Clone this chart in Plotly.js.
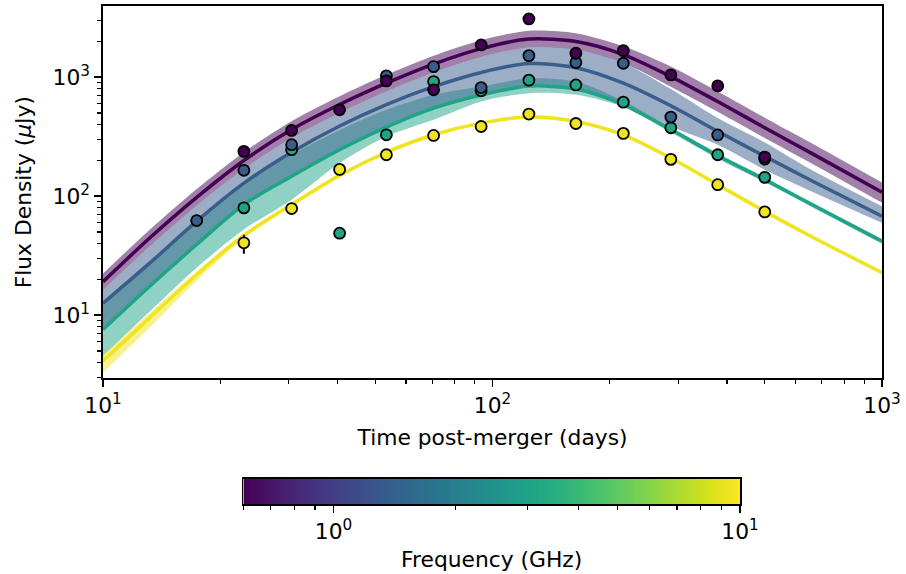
<!DOCTYPE html>
<html>
<head>
<meta charset="utf-8">
<script src="https://cdn.plot.ly/plotly-3.0.1.min.js"></script>
<style>html,body{margin:0;padding:0;background:#fff;}#chart{width:906px;height:574px;}</style>
</head>
<body>
<div id="chart"></div>
<script>
// ---- data (flux densities in microJansky, times in days) ----
const FREQ_GHZ = [0.6, 1.4, 3, 10];
const FREQ_COLORS = ['#440154', '#3a5e8c', '#20a386', '#f0e41f'];
const FREQ_FILLS = ['rgba(68,1,84,0.5)', 'rgba(58,94,140,0.5)', 'rgba(32,163,134,0.5)', 'rgba(240,228,31,0.5)'];

// observed points
const T_OBS = [17.4, 23.0, 30.5, 40.5, 53.4, 70.6, 93.5, 124, 163.7, 216.7, 287, 378.6, 500];
const OBS_0p6 = [null, 238, 357, 532, 931, 783, 1866, 3084, 1589, 1671, 1045, 845, 213];
const OBS_1p4 = [62.4, 165, 271, null, 1026, 1227, 818, 1517, 1326, 1309, 462, 327, 205];
const OBS_3 = [null, 79.8, 246, 48.9, 328, 919, 768, 944, 861, 617, 376, 223, 144];
const OBS_10 = [null, 40.6, 78.7, 168, 223, 324, 385, 490, 408, 337, 204, 125, 73.8];
const ERR_UP_10 = [0, 6.9, 0, 0, 0, 0, 0, 0, 0, 0, 0, 0, 0];
const ERR_DN_10 = [0, 7.7, 0, 0, 0, 0, 0, 0, 0, 0, 0, 0, 0];

// model light curves
const T_MODEL = [10, 13.2, 17.4, 23, 30.5, 40.5, 53.4, 70.6, 93.5, 124, 163.7, 216.7, 287, 378.6, 500, 660, 1000];
const MODEL_0p6 = [19.1, 44.7, 97.7, 199.5, 363, 589, 891, 1288, 1738, 2089, 1995, 1549, 1012, 624, 376, 229, 108];
const HI_0p6 = [22.4, 52.5, 114.8, 234.4, 426.6, 691.8, 1047, 1514, 2042, 2455, 2344, 1820, 1230, 758.6, 457.1, 278.6, 130.3];
const LO_0p6 = [16.2, 38.0, 83.2, 169.8, 309.0, 501.2, 758.6, 1096, 1479, 1778, 1698, 1318, 831.8, 512.9, 309.0, 188.4, 88.1];

const MODEL_1p4 = [12.6, 27.5, 61.7, 128.8, 234.4, 389.0, 588.8, 831.8, 1096, 1303, 1202, 891.3, 575.4, 350.8, 216.3, 134.9, 67.9];
const HI_1p4 = [16.2, 38.0, 83.2, 169.8, 309.0, 501.2, 758.6, 1096, 1479, 1778, 1698, 1318, 794.3, 452.9, 283.1, 166.0, 82.2];
const LO_1p4 = [7.59, 17.6, 39.3, 85.1, 146.9, 245.5, 380.2, 549.5, 707.9, 841.4, 794.3, 602.6, 385.5, 271.0, 167.1, 109.6, 59.7];

const MODEL_3 = [7.59, 17.6, 39.3, 85.1, 146.9, 245.5, 380.2, 549.5, 707.9, 841.4, 794.3, 588.8, 363.1, 218.8, 137.7, 85.1, 41.9];
const HI_3 = [12.6, 27.5, 61.7, 128.8, 223.9, 358.9, 532.1, 711.2, 833.7, 977.2, 918.3, 631.0, 380.2, 229.1, 144.5, 89.1, 43.7];
const LO_3 = [4.55, 10.8, 25.1, 52.5, 93.5, 190.1, 317.7, 438.5, 625.2, 734.5, 711.2, 562.3, 342.8, 206.5, 131.5, 81.3, 39.8];

const MODEL_10 = [4.13, 9.55, 21.9, 46.8, 85.1, 149.6, 233.3, 328.1, 411.1, 462.4, 424.6, 328.1, 209.4, 125.0, 74.6, 45.7, 22.8];
const HI_10 = [4.63, 10.5, 23.4, 49.0, 88.1, 153.8, 239.9, 337.3, 422.7, 475.3, 436.5, 337.3, 215.3, 128.5, 76.7, 47.0, 23.4];
const LO_10 = [3.28, 7.94, 19.5, 44.2, 82.2, 145.5, 227.0, 319.2, 399.9, 449.8, 413.0, 319.2, 203.7, 121.6, 72.6, 44.5, 22.1];

// colourbar range (GHz)
const CBAR_MIN = 0.6, CBAR_MAX = 10;
const X_TICKS = [10, 100, 1000];
const X_TICKTEXT = ['10<sup>1</sup>', '10<sup>2</sup>', '10<sup>3</sup>'];
const X_MINOR = [20, 30, 40, 50, 60, 70, 80, 90, 200, 300, 400, 500, 600, 700, 800, 900];
const Y_TICKS = [10, 100, 1000];
const Y_TICKTEXT = ['10<sup>1</sup>', '10<sup>2</sup>', '10<sup>3</sup>'];
const Y_MINOR = [3, 4, 5, 6, 7, 8, 9, 20, 30, 40, 50, 60, 70, 80, 90, 200, 300, 400, 500, 600, 700, 800, 900, 2000, 3000];
const CB_TICKS = [1, 10];
const CB_TICKTEXT = ['10<sup>0</sup>', '10<sup>1</sup>'];
const CB_MINOR = [0.6, 0.7, 0.8, 0.9, 2, 3, 4, 5, 6, 7, 8, 9];

// ---- build ----
const models = [MODEL_0p6, MODEL_1p4, MODEL_3, MODEL_10];
const his = [HI_0p6, HI_1p4, HI_3, HI_10];
const los = [LO_0p6, LO_1p4, LO_3, LO_10];
const obs = [OBS_0p6, OBS_1p4, OBS_3, OBS_10];

const traces = [];
// bands: teal, blue, purple, yellow
[2, 1, 0, 3].forEach(i => {
  traces.push({x: T_MODEL, y: los[i], type: 'scatter', mode: 'lines', line: {width: 0, shape: 'spline', smoothing: 0.8}, hoverinfo: 'skip', showlegend: false});
  traces.push({x: T_MODEL, y: his[i], type: 'scatter', mode: 'lines', fill: 'tonexty', fillcolor: FREQ_FILLS[i], line: {width: 0, shape: 'spline', smoothing: 0.8}, hoverinfo: 'skip', showlegend: false});
});
// lines
[0, 1, 2, 3].forEach(i => {
  traces.push({x: T_MODEL, y: models[i], type: 'scatter', mode: 'lines', line: {color: FREQ_COLORS[i], width: 3.5, shape: 'spline', smoothing: 0.8}, showlegend: false});
});
// points: teal, blue, purple, yellow
[2, 1, 0, 3].forEach(i => {
  const tr = {x: T_OBS, y: obs[i], type: 'scatter', mode: 'markers', marker: {color: FREQ_COLORS[i], size: 11, line: {color: '#000', width: 1.8}}, showlegend: false};
  if (i === 3) {
    tr.error_y = {type: 'data', symmetric: false, array: ERR_UP_10, arrayminus: ERR_DN_10, color: '#000', thickness: 2, width: 0};
  }
  traces.push(tr);
});
// colourbar as a heatmap strip on its own log axis
const NCB = 300;
const cbEdges = [], cbZ = [];
const lmin = Math.log10(CBAR_MIN), lmax = Math.log10(CBAR_MAX);
for (let k = 0; k <= NCB; k++) cbEdges.push(Math.pow(10, lmin + (lmax - lmin) * k / NCB));
for (let k = 0; k < NCB; k++) cbZ.push(lmin + (lmax - lmin) * (k + 0.5) / NCB);
traces.push({type: 'heatmap', x: cbEdges, y: [0, 1], z: [cbZ], colorscale: 'Viridis', zmin: lmin, zmax: lmax, showscale: false, xaxis: 'x2', yaxis: 'y2', hoverinfo: 'skip'});

const FONT = 'DejaVu Sans, Verdana, sans-serif';
const FS = 21.8;
const axCommon = {showgrid: false, zeroline: false, showline: true, linecolor: '#000', linewidth: 1.6, ticks: 'outside', ticklen: 7, tickwidth: 1.6, tickcolor: '#000', tickfont: {family: FONT, size: FS, color: '#000'}};

const layout = {
  width: 906, height: 574,
  margin: {l: 103, r: 24, t: 6, b: 70, pad: 0},
  paper_bgcolor: '#fff', plot_bgcolor: '#fff',
  font: {family: FONT, color: '#000', size: FS},
  showlegend: false,
  xaxis: Object.assign({}, axCommon, {
    type: 'log', range: [1, 3], domain: [0, 1], anchor: 'y', mirror: true,
    tickmode: 'array', tickvals: X_TICKS, ticktext: X_TICKTEXT,
    minor: {tickmode: 'array', tickvals: X_MINOR, ticks: 'outside', ticklen: 4, tickwidth: 1.2, tickcolor: '#000', showgrid: false},
    title: {text: 'Time post-merger (days)', font: {family: FONT, size: FS}, standoff: 12}
  }),
  yaxis: Object.assign({}, axCommon, {
    type: 'log', range: [0.47, 3.598], domain: [0.2524, 1], anchor: 'x', mirror: true,
    tickmode: 'array', tickvals: Y_TICKS, ticktext: Y_TICKTEXT,
    minor: {tickmode: 'array', tickvals: Y_MINOR, ticks: 'outside', ticklen: 4, tickwidth: 1.2, tickcolor: '#000', showgrid: false},
    title: {text: 'Flux Density (<i>μ</i>Jy)', font: {family: FONT, size: FS}, standoff: 15}
  }),
  xaxis2: Object.assign({}, axCommon, {
    type: 'log', range: [Math.log10(CBAR_MIN), Math.log10(CBAR_MAX)], domain: [0.1802, 0.8177], anchor: 'y2', mirror: true,
    tickmode: 'array', tickvals: CB_TICKS, ticktext: CB_TICKTEXT,
    minor: {tickmode: 'array', tickvals: CB_MINOR, ticks: 'outside', ticklen: 4, tickwidth: 1.2, tickcolor: '#000', showgrid: false},
    title: {text: 'Frequency (GHz)', font: {family: FONT, size: FS}, standoff: 9}
  }),
  yaxis2: {domain: [0, 0.0502], anchor: 'x2', range: [0, 1], showline: true, mirror: true, linecolor: '#000', linewidth: 1.6, ticks: '', showticklabels: false, showgrid: false, zeroline: false, fixedrange: true}
};

Plotly.newPlot('chart', traces, layout, {staticPlot: true, displayModeBar: false});
</script>
</body>
</html>
